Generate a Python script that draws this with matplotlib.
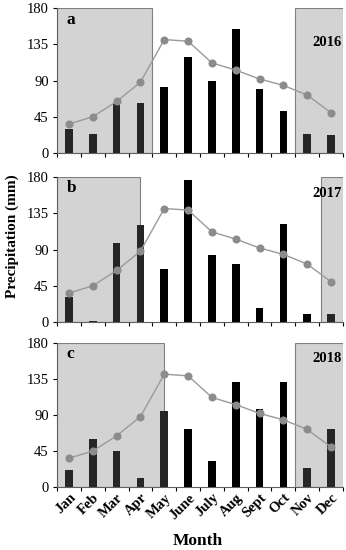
import matplotlib
matplotlib.use("Agg")
import matplotlib.pyplot as plt
import numpy as np

plt.rcParams['font.family'] = ['Liberation Serif', 'DejaVu Serif']

months = ["Jan", "Feb", "Mar", "Apr", "May", "June", "July", "Aug", "Sept", "Oct", "Nov", "Dec"]
mean_precip = [36, 45, 64, 88, 141, 139, 112, 103, 92, 84, 72, 50]
precip_2016 = [30, 23, 62, 62, 82, 119, 89, 154, 79, 52, 23, 22]
precip_2017 = [31, 1.5, 98, 121, 66, 176, 83, 72, 18, 122, 10, 10]
precip_2018 = [21, 60, 45, 11, 95, 72, 32, 131, 97, 131, 24, 72]
years = ["2016", "2017", "2018"]
panel_letters = ["a", "b", "c"]
# dry-season shading spans (in month index units)
shade_spans = [[(-0.5, 3.5), (9.5, 11.5)],
               [(-0.5, 3.0), (10.6, 11.5)],
               [(-0.5, 4.0), (9.5, 11.5)]]
year_label_y = [137, 160, 160]
yticks = [0, 45, 90, 135, 180]

fig = plt.figure(figsize=(3.46, 5.5), dpi=100)
left, right = 0.165, 0.991
boxes = [(0.722, 0.985), (0.4145, 0.678), (0.1145, 0.3764)]
series = [precip_2016, precip_2017, precip_2018]
x = np.arange(len(months))

for i, (b, t) in enumerate(boxes):
    ax = fig.add_axes([left, b, right - left, t - b])
    for (s0, s1) in shade_spans[i]:
        ax.axvspan(s0, s1, facecolor='#d3d3d3', edgecolor='#808080', linewidth=0.8, zorder=0)
    colors = []
    for xi in x:
        shaded = any(s0 <= xi <= s1 for (s0, s1) in shade_spans[i])
        colors.append('#262626' if shaded else 'black')
    ax.bar(x, series[i], width=0.32, color=colors, zorder=2)
    ax.plot(x, mean_precip, color='#9a9a9a', linewidth=1.0, marker='o',
            markersize=4.8, markerfacecolor='#8c8c8c', markeredgecolor='#8c8c8c', zorder=3)
    ax.set_xlim(-0.5, 11.5)
    ax.set_ylim(0, 180)
    ax.set_yticks(yticks)
    ax.tick_params(axis='y', labelsize=10.5, length=3, width=0.8, direction='out', pad=3)
    ax.set_xticks(np.arange(-0.5, 12, 1), minor=True)
    ax.tick_params(axis='x', which='minor', length=3, width=0.8, direction='out')
    ax.set_xticks(x)
    ax.tick_params(axis='x', which='major', length=0)
    if i == 2:
        ax.set_xticklabels(months, rotation=45, ha='right', rotation_mode='anchor',
                           fontsize=10.5, fontweight='bold')
        ax.tick_params(axis='x', which='major', pad=3)
    else:
        ax.set_xticklabels([])
    for sp in ['top', 'right']:
        ax.spines[sp].set_visible(False)
    ax.spines['left'].set_color('#606060')
    ax.spines['bottom'].set_color('#606060')
    ax.spines['left'].set_linewidth(0.8)
    ax.spines['bottom'].set_linewidth(0.8)
    ax.text(-0.1, 166, panel_letters[i], fontsize=12.5, fontweight='bold', ha='left', va='center')
    ax.text(11.45, year_label_y[i], years[i], fontsize=10.5, fontweight='bold', ha='right', va='center')

fig.text(0.035, 0.571, "Precipitation (mm)", rotation=90, fontsize=11, fontweight='bold',
         ha='center', va='center')
fig.text(0.573, 0.0155, "Month", fontsize=12.5, fontweight='bold', ha='center', va='center')

fig.savefig("out.png", dpi=100)
